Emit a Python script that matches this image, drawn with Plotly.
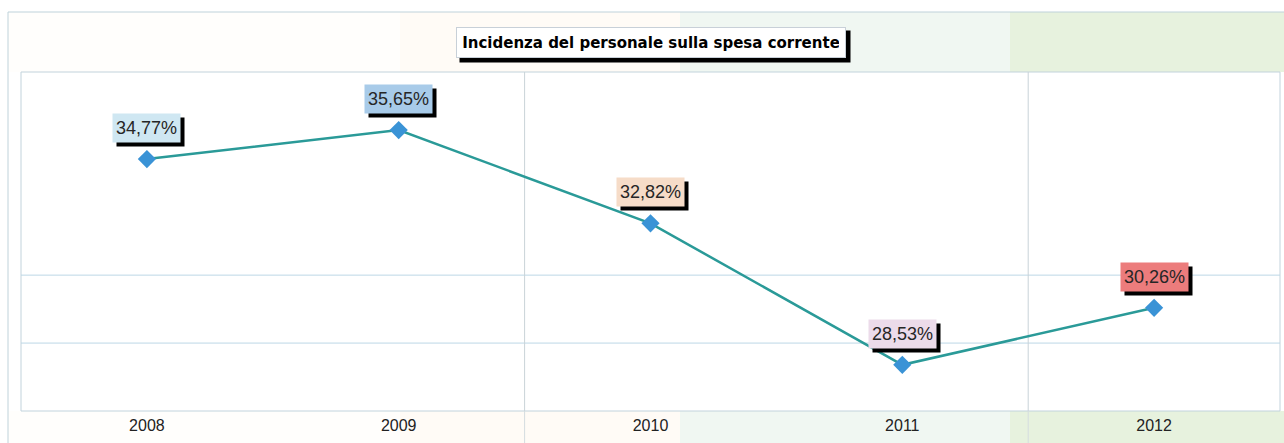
import plotly.graph_objects as go

# data
years = ["2008", "2009", "2010", "2011", "2012"]
values = [34.77, 35.65, 32.82, 28.53, 30.26]
value_labels = ["34,77%", "35,65%", "32,82%", "28,53%", "30,26%"]
label_colors = ["#cfe7f2", "#a8cbe9", "#f6dcc8", "#ecdbea", "#ec7c7c"]
title_text = "Incidenza del personale sulla spesa corrente"

y_range = [27.13, 37.41]
h_grid = [29.19, 31.25]
v_grid = [1.5, 3.5]

W, H = 1284, 443
ML, MR, MT, MB = 21, 4, 72, 32
plot_w = W - ML - MR
plot_h = H - MT - MB


def px_x(p):
    return (p - ML) / plot_w


def px_y(p):
    return (H - MB - p) / plot_h


xs = list(range(len(years)))

fig = go.Figure()
fig.add_trace(go.Scatter(
    x=xs, y=values, mode="lines+markers",
    line=dict(color="#2a9a98", width=2.5),
    marker=dict(symbol="diamond", size=14, color="#3a93d6"),
    hoverinfo="skip", showlegend=False
))

shapes = []
# faint background bands in the margins (top and bottom strips)
bands = [(8, 400, "#fffefc"), (400, 680, "#fffbf6"), (680, 1010, "#f0f7f2"), (1010, 1290, "#e7f2de")]
for x0, x1, col in bands:
    shapes.append(dict(type="rect", xref="paper", yref="paper",
                       x0=px_x(x0), x1=px_x(x1), y0=px_y(72), y1=px_y(12),
                       fillcolor=col, line_width=0, layer="below"))
    shapes.append(dict(type="rect", xref="paper", yref="paper",
                       x0=px_x(x0), x1=px_x(x1), y0=px_y(443), y1=px_y(411),
                       fillcolor=col, line_width=0, layer="below"))
# outer frame
shapes.append(dict(type="rect", xref="paper", yref="paper",
                   x0=px_x(8), x1=px_x(1290), y0=px_y(450), y1=px_y(12),
                   line=dict(color="#bfd2da", width=1), fillcolor="rgba(0,0,0,0)",
                   layer="below"))
# plot area frame
shapes.append(dict(type="rect", xref="paper", yref="paper",
                   x0=0, x1=1, y0=0, y1=1,
                   line=dict(color="#c2d3dc", width=1), fillcolor="rgba(0,0,0,0)",
                   layer="below"))
for v in h_grid:
    shapes.append(dict(type="line", xref="paper", yref="y", x0=0, x1=1, y0=v, y1=v,
                       line=dict(color="#bcd7e6", width=1), layer="below"))
for v in v_grid:
    shapes.append(dict(type="line", xref="x", yref="paper", x0=v, x1=v, y0=0, y1=1,
                       line=dict(color="#c9d3d8", width=1), layer="below"))
# vertical lines continuing into bottom strip
for v in v_grid:
    shapes.append(dict(type="line", xref="x", yref="paper", x0=v, x1=v,
                       y0=px_y(443), y1=0,
                       line=dict(color="#d4dcdf", width=1), layer="below"))

annotations = []
# title with drop shadow (shadow is an empty box of the same size)
annotations.append(dict(
    text=" ", xref="paper", yref="paper",
    x=0.5, y=px_y(42.5), xanchor="center", yanchor="middle",
    xshift=4, yshift=-4, showarrow=False, width=378, height=19,
    bgcolor="#000000", borderpad=6
))
annotations.append(dict(
    text="<b>" + title_text + "</b>", xref="paper", yref="paper",
    x=0.5, y=px_y(42.5), xanchor="center", yanchor="middle",
    showarrow=False, width=376, height=17,
    font=dict(family="DejaVu Sans", size=15, color="#000000"),
    bgcolor="#ffffff", bordercolor="#c8d0d8", borderwidth=1, borderpad=6
))

label_font = dict(family="Liberation Sans, Arial", size=18, color="#262626")
for x, v, t, c in zip(xs, values, value_labels, label_colors):
    annotations.append(dict(
        text=" ", x=x, y=v, xref="x", yref="y", showarrow=False,
        yanchor="middle", xshift=4, yshift=27, width=61, height=22,
        bgcolor="#000000", borderpad=3
    ))
    annotations.append(dict(
        text=t, x=x, y=v, xref="x", yref="y", showarrow=False,
        yanchor="middle", yshift=31, width=61, height=22,
        font=label_font, bgcolor=c, borderpad=3
    ))

fig.update_layout(
    width=W, height=H,
    margin=dict(l=ML, r=MR, t=MT, b=MB),
    paper_bgcolor="#ffffff", plot_bgcolor="#ffffff",
    xaxis=dict(range=[-0.5, 4.5], tickvals=xs, ticktext=years,
               showgrid=False, zeroline=False, showline=False, ticks="",
               ticklabelstandoff=3,
               tickfont=dict(family="Liberation Sans, Arial", size=16, color="#222222"),
               fixedrange=True),
    yaxis=dict(range=y_range, showgrid=False, zeroline=False, showline=False,
               showticklabels=False, fixedrange=True),
    shapes=shapes, annotations=annotations
)

# drop the default page margin so the figure sits at the window's top-left corner
fig.write_html("out.html", config={"displayModeBar": False},
               post_script="document.body.style.margin='0';")
